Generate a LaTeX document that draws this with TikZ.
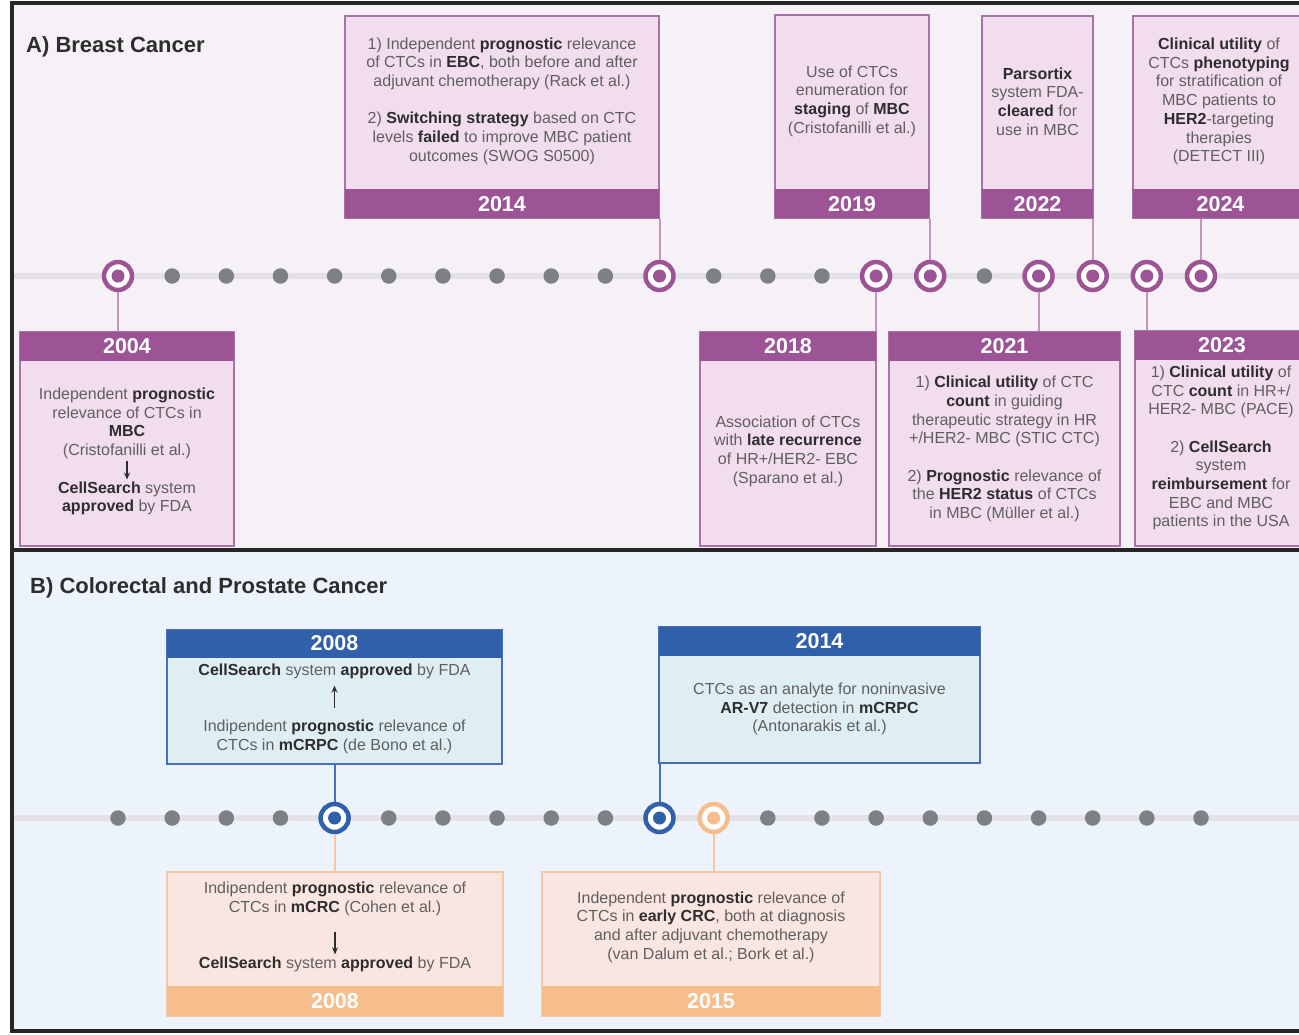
\documentclass[tikz,border=0pt]{standalone}
\usepackage{fontspec}
\setmainfont{Liberation Sans}
\usetikzlibrary{arrows.meta,calc,positioning}

\definecolor{bgA}{RGB}{246,241,247}
\definecolor{bgB}{RGB}{236,243,250}
\definecolor{railgrey}{RGB}{228,226,231}
\definecolor{dotgrey}{RGB}{125,129,132}
\definecolor{plum}{RGB}{156,84,151}
\definecolor{plumbox}{RGB}{241,221,238}
\definecolor{plumline}{RGB}{165,115,165}
\definecolor{plumlink}{RGB}{195,148,190}
\definecolor{navy}{RGB}{48,96,170}
\definecolor{navybox}{RGB}{222,238,243}
\definecolor{navyline}{RGB}{72,112,185}
\definecolor{peach}{RGB}{246,190,140}
\definecolor{peachbox}{RGB}{250,230,225}
\definecolor{peachline}{RGB}{243,200,165}
\definecolor{ink}{RGB}{45,45,45}
\definecolor{txt}{RGB}{95,95,95}

\newcommand{\hb}[1]{\textbf{\color{ink}#1}}

\begin{document}
\begin{tikzpicture}
  [x=1pt,y=-1pt,
   rail/.style={railgrey,line width=6pt},
   dot/.style={circle,fill=dotgrey,inner sep=0pt,minimum size=15.5pt},
   target/.style={circle,draw=#1,fill=white,line width=4.5pt,inner sep=0pt,minimum size=28pt,
     path picture={\fill[#1] (path picture bounding box.center) circle (6.5pt);}},
   card/.style={draw=#1,line width=1.3pt,inner sep=0pt},
   yearbar/.style={fill=#1,text=white,inner sep=0pt,minimum height=29pt,
     font=\bfseries\fontsize{21.5}{22}\selectfont},
   body/.style={align=center,text=txt,inner sep=2pt,font=\fontsize{16}{18.7}\selectfont},
   title/.style={anchor=base west,text=ink,inner sep=0pt,font=\bfseries\fontsize{22}{24}\selectfont},
   link/.style={#1,line width=2pt},
   arr/.style={-{Stealth[length=7pt,width=6pt]},ink,line width=1.1pt}]

  \useasboundingbox (0,0) rectangle (1299,1034);
  \clip (0,0) rectangle (1299,1034);

  % two panels
  \fill[bgA] (12,3) rectangle (1320,550);
  \fill[bgB] (12,550) rectangle (1320,1031);

  \node[title] (ta) at (26,52) {A) Breast Cancer};
  \node[title] (tb) at (30,593) {B) Colorectal and Prostate Cancer};

  % time axes, one step per year from 2004
  \draw[rail] (12,276) -- (1320,276);
  \draw[rail] (12,818) -- (1320,818);

  \draw[line width=4pt,black!85] (1320,3) -- (12,3) -- (12,1031) -- (1320,1031);
  \draw[line width=4pt,black!85] (12,550) -- (1320,550);

  \foreach \k in {1,...,9,11,12,13,16}
    \node[dot] (a\k) at ({118+54.15*\k},276) {};
  \foreach \k in {0,10,14,15,17,18,19,20}
    \node[target=plum] (a\k) at ({118+54.15*\k},276) {};

  \foreach \k in {0,1,2,3,5,6,7,8,9,12,13,...,20}
    \node[dot] (b\k) at ({118+54.15*\k},818) {};
  \node[target=navy] (b4) at ({118+54.15*4},818) {};
  \node[target=navy] (b10) at ({118+54.15*10},818) {};
  \node[target=peach] (b11) at ({118+54.15*11},818) {};

  % breast cancer, above the axis
  \node[card=plumline,fill=plumbox,minimum width=314,minimum height=202] (br2014) at (502,117) {};
  \node[yearbar=plum,minimum width=314,anchor=south] (hbr2014) at (br2014.south) {2014};
  \node[body] (tbr2014) at (502,101) {1) Independent \hb{prognostic} relevance\\
    of CTCs in \hb{EBC}, both before and after\\
    adjuvant chemotherapy (Rack et al.)\\[18.7pt]
    2) \hb{Switching strategy} based on CTC\\
    levels \hb{failed} to improve MBC patient\\
    outcomes (SWOG S0500)};

  \node[card=plumline,fill=plumbox,minimum width=154,minimum height=203] (br2019) at (852,116.5) {};
  \node[yearbar=plum,minimum width=154,anchor=south] (hbr2019) at (br2019.south) {2019};
  \node[body] (tbr2019) at (852,101) {Use of CTCs\\enumeration for\\\hb{staging} of \hb{MBC}\\(Cristofanilli et al.)};

  \node[card=plumline,fill=plumbox,minimum width=111,minimum height=202] (br2022) at (1037.5,117) {};
  \node[yearbar=plum,minimum width=111,anchor=south] (hbr2022) at (br2022.south) {2022};
  \node[body] (tbr2022) at (1037.5,101.5) {\hb{Parsortix}\\system FDA-\\\hb{cleared} for\\use in MBC};

  \node[card=plumline,fill=plumbox,minimum width=175,minimum height=202] (br2024) at (1220.5,117) {};
  \node[yearbar=plum,minimum width=175,anchor=south] (hbr2024) at (br2024.south) {2024};
  \node[body] (tbr2024) at (1219,101.5) {\hb{Clinical utility} of\\CTCs \hb{phenotyping}\\for stratification of\\MBC patients to\\\hb{HER2}-targeting\\therapies\\(DETECT III)};

  % breast cancer, below the axis
  \node[card=plumline,fill=plumbox,minimum width=214,minimum height=214] (br2004) at (127,439) {};
  \node[yearbar=plum,minimum width=214,anchor=north] (hbr2004) at (br2004.north) {2004};
  \node[body] (tbr2004a) at (127,423.5) {Independent \hb{prognostic}\\relevance of CTCs in\\\hb{MBC}\\(Cristofanilli et al.)};
  \node[body] (tbr2004b) at (127,498.5) {\hb{CellSearch} system\\\hb{approved} by FDA};

  \node[card=plumline,fill=plumbox,minimum width=176,minimum height=214] (br2018) at (788,439) {};
  \node[yearbar=plum,minimum width=176,anchor=north] (hbr2018) at (br2018.north) {2018};
  \node[body] (tbr2018) at (788,451) {Association of CTCs\\with \hb{late recurrence}\\of HR+/HER2- EBC\\(Sparano et al.)};

  \node[card=plumline,fill=plumbox,minimum width=231,minimum height=214] (br2021) at (1004.5,439) {};
  \node[yearbar=plum,minimum width=231,anchor=north] (hbr2021) at (br2021.north) {2021};
  \node[body] (tbr2021) at (1004.5,449) {1) \hb{Clinical utility} of CTC\\\hb{count} in guiding\\
    therapeutic strategy in HR\\+/HER2- MBC (STIC CTC)\\[18.7pt]
    2) \hb{Prognostic} relevance of\\the \hb{HER2 status} of CTCs\\in MBC (Müller et al.)};

  \node[card=plumline,fill=plumbox,minimum width=174,minimum height=215] (br2023) at (1222,438.5) {};
  \node[yearbar=plum,minimum width=174,anchor=north] (hbr2023) at (br2023.north) {2023};
  \node[body] (tbr2023) at (1221,448) {1) \hb{Clinical utility} of\\CTC \hb{count} in HR+/\\HER2- MBC (PACE)\\[18.7pt]
    2) \hb{CellSearch}\\system\\\hb{reimbursement} for\\EBC and MBC\\patients in the USA};

  % prostate cancer, above the axis
  \node[card=navyline,fill=navybox,minimum width=335,minimum height=134] (pr2008) at (334.5,697) {};
  \node[yearbar=navy,minimum width=335,minimum height=28,anchor=north] (hpr2008) at (pr2008.north) {2008};
  \node[body] (tpr2008a) at (334.5,671) {\hb{CellSearch} system \hb{approved} by FDA};
  \node[body] (tpr2008b) at (334.5,736.5) {Indipendent \hb{prognostic} relevance of\\CTCs in \hb{mCRPC} (de Bono et al.)};

  \node[card=navyline,fill=navybox,minimum width=321,minimum height=136] (pr2014) at (819.5,695) {};
  \node[yearbar=navy,minimum width=321,anchor=north] (hpr2014) at (pr2014.north) {2014};
  \node[body] (tpr2014) at (819.5,709) {CTCs as an analyte for noninvasive\\\hb{AR-V7} detection in \hb{mCRPC}\\(Antonarakis et al.)};

  % colorectal cancer, below the axis
  \node[card=peachline,fill=peachbox,minimum width=336,minimum height=144] (crc2008) at (335,944) {};
  \node[yearbar=peach,minimum width=336,minimum height=30,anchor=south] (hcrc2008) at (crc2008.south) {2008};
  \node[body] (tcrc2008a) at (335,898.5) {Indipendent \hb{prognostic} relevance of\\CTCs in \hb{mCRC} (Cohen et al.)};
  \node[body] (tcrc2008b) at (335,964) {\hb{CellSearch} system \hb{approved} by FDA};

  \node[card=peachline,fill=peachbox,minimum width=338,minimum height=144] (crc2015) at (711,944) {};
  \node[yearbar=peach,minimum width=338,minimum height=30,anchor=south] (hcrc2015) at (crc2015.south) {2015};
  \node[body] (tcrc2015) at (711,927) {Independent \hb{prognostic} relevance of\\CTCs in \hb{early CRC}, both at diagnosis\\
    and after adjuvant chemotherapy\\(van Dalum et al.; Bork et al.)};

  % stems from the axes to the cards
  \foreach \k/\e in {10/br2014,15/br2019,18/br2022,20/br2024}
    \draw[link=plumlink] (a\k.north) -- (a\k.north |- \e.south);
  \foreach \k/\e in {0/br2004,14/br2018,17/br2021,19/br2023}
    \draw[link=plumlink] (a\k.south) -- (a\k.south |- \e.north);
  \foreach \k/\e in {4/pr2008,10/pr2014}
    \draw[link=navyline] (b\k.north) -- (b\k.north |- \e.south);
  \foreach \k/\e in {4/crc2008,11/crc2015}
    \draw[link=peachline] (b\k.south) -- (b\k.south |- \e.north);

  \foreach \from/\to/\s/\t in {tbr2004a/tbr2004b/0/0,tpr2008b/tpr2008a/10/5,tcrc2008a/tcrc2008b/14/0}
    \draw[arr,shorten <=\s pt,shorten >=\t pt] (\from) -- (\to);

\end{tikzpicture}
\end{document}
